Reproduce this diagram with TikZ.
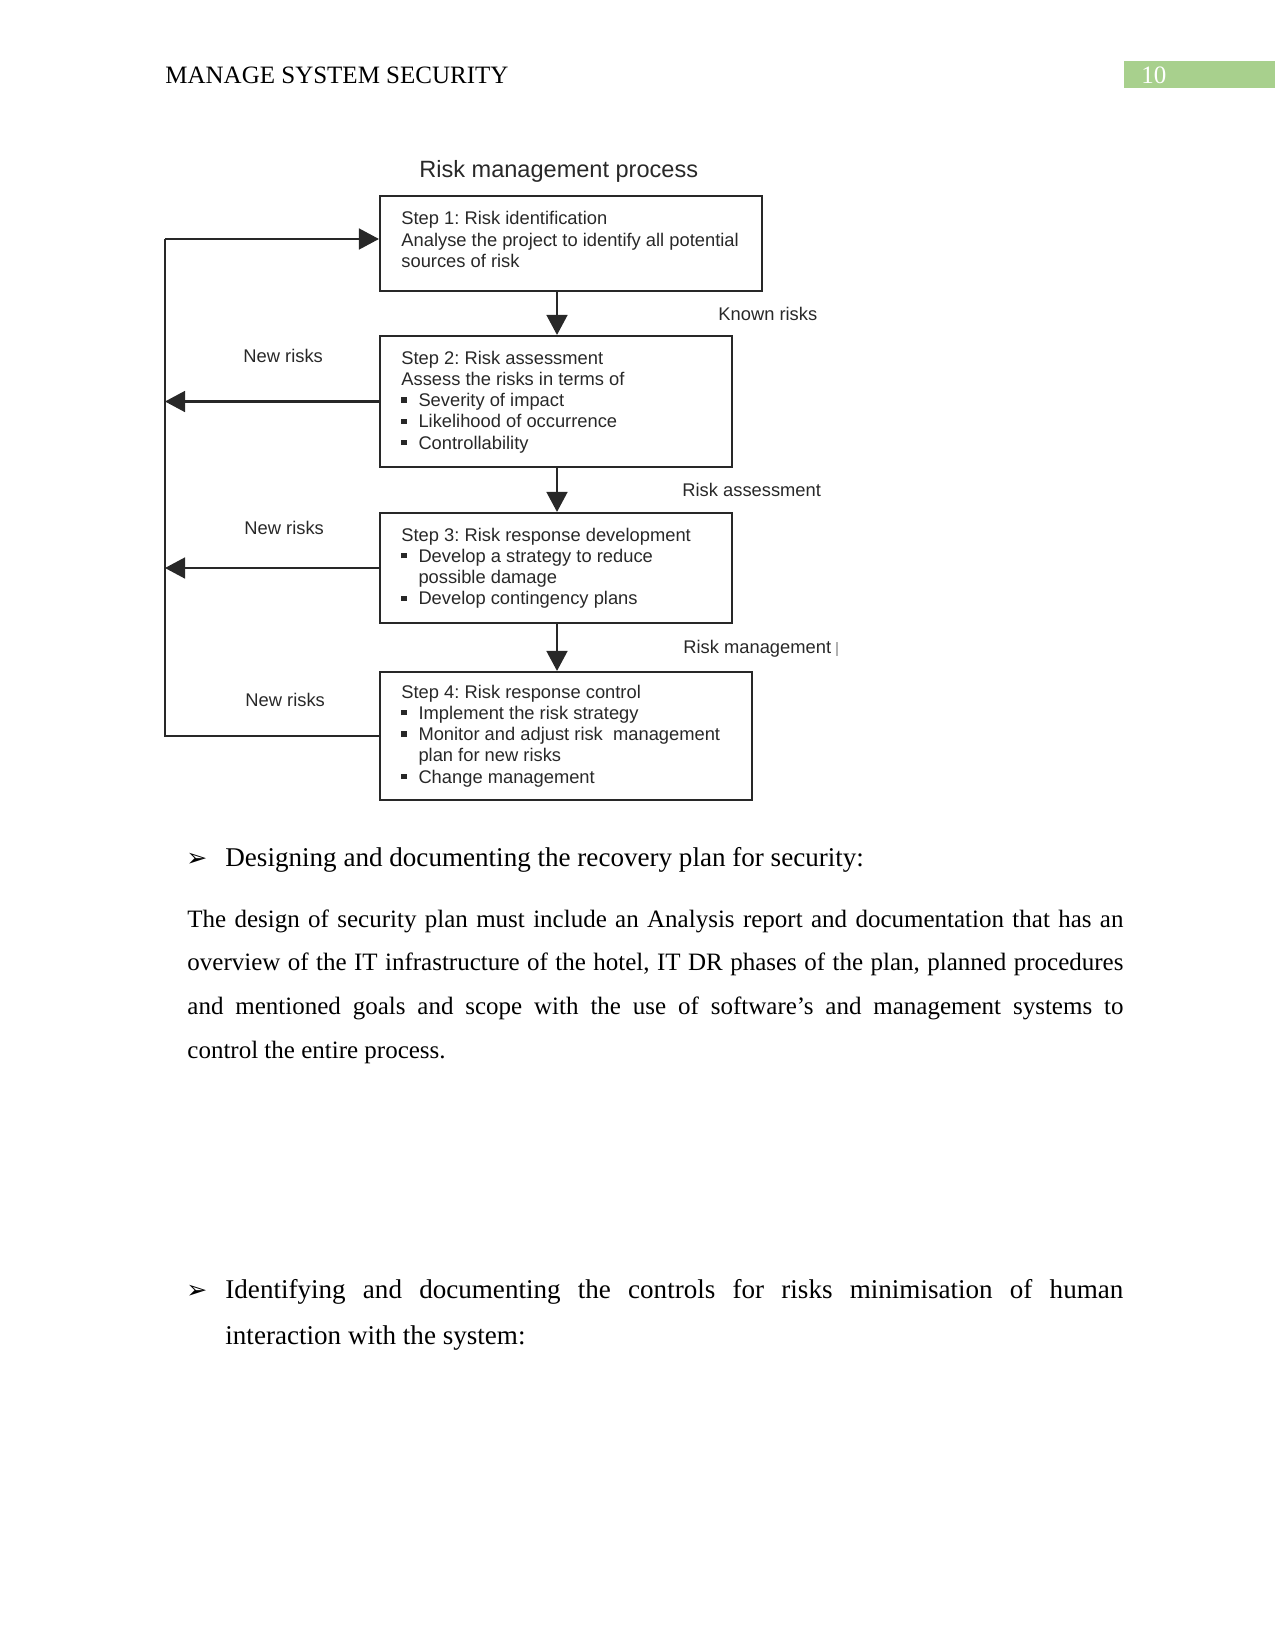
\documentclass[tikz,border=0pt]{standalone}
\usepackage{fontspec}
\setmainfont{Liberation Serif}
\newfontfamily\diagfont{Liberation Sans}
\newfontfamily\symfont{DejaVu Sans}
\usetikzlibrary{arrows.meta,fit}
\definecolor{hdrgreen}{RGB}{168,208,141}
\definecolor{ink}{RGB}{40,40,40}
\frenchspacing
\newcommand{\sqb}{\makebox[8.2pt][l]{\rule[1.9pt]{2.5pt}{2.5pt}}}
\newcommand{\ind}{\hspace*{8.2pt}}
\newcommand{\boxlines}[1]{\parbox[t]{200pt}{\frenchspacing\diagfont\fontsize{8.8pt}{10.2pt}\selectfont #1}}
\tikzset{
  stepbox/.style={draw=ink, line width=1pt, inner sep=0pt},
  boxtext/.style={anchor=base west, inner sep=0pt, text=ink},
  lbl/.style={anchor=base west, inner sep=0pt, text=ink, font=\diagfont\fontsize{8.8pt}{10pt}\selectfont},
  conn/.style={draw=ink, line width=1pt},
  arr/.style={conn, -{Triangle[length=9.6pt,width=10pt]}},
  body/.style={anchor=base west, inner sep=0pt, font=\fontsize{12pt}{14pt}\selectfont},
  head/.style={anchor=base west, inner sep=0pt, font=\fontsize{13pt}{15pt}\selectfont},
  bul/.style={anchor=base west, inner sep=0pt, font=\symfont\fontsize{12pt}{14pt}\selectfont},
}
\begin{document}
\begin{tikzpicture}[x=0.48pt, y=-0.48pt]
\useasboundingbox (0,0) rectangle (1275,1651);
% header
\node[body] (hdr) at (165,84) {MANAGE SYSTEM SECURITY};
\fill[hdrgreen] (1124,61) rectangle (1275,88);
\node[body, text=white] (pg) at (1141,84) {10};
% diagram title
\node[anchor=base west, inner sep=0pt, text=ink, font=\diagfont\fontsize{11.3pt}{13pt}\selectfont] (title) at (419,178) {Risk management process};
% boxes
\node[stepbox, fit={(380,196) (762,291)}] (b1) {};
\node[stepbox, fit={(380,336) (732,467)}] (b2) {};
\node[stepbox, fit={(380,513) (732,623)}] (b3) {};
\node[stepbox, fit={(380,672) (752,800)}] (b4) {};
% box texts
\node[boxtext] (t1) at (401,225) {\boxlines{Step 1: Risk identification\\Analyse the project to identify all potential\\sources of risk}};
\node[boxtext] (t2) at (401,364) {\boxlines{Step 2: Risk assessment\\Assess the risks in terms of\\\sqb Severity of impact\\\sqb Likelihood of occurrence\\\sqb Controllability}};
\node[boxtext] (t3) at (401,541) {\boxlines{Step 3: Risk response development\\\sqb Develop a strategy to reduce\\\ind possible damage\\\sqb Develop contingency plans}};
\node[boxtext] (t4) at (401,698) {\boxlines{Step 4: Risk response control\\\sqb Implement the risk strategy\\\sqb Monitor and adjust risk\ \ management\\\ind plan for new risks\\\sqb Change management}};
% connector labels
\node[lbl] (l1) at (718,320) {Known risks};
\node[lbl] (l2) at (682,496) {Risk assessment};
\node[lbl] (l3) at (683,653) {Risk management};
\draw[gray!60, line width=0.6pt] (837,642) -- (837,656);
\node[lbl] (n1) at (243,362) {New risks};
\node[lbl] (n2) at (244,534) {New risks};
\node[lbl] (n3) at (245,706) {New risks};
% connectors
\coordinate (vx) at (557,0);
\coordinate (lpx) at (165,0);
\coordinate (lpTop) at (165,239);
\draw[arr] (b1.south -| vx) -- (b2.north -| vx);
\draw[arr] (b2.south -| vx) -- (b3.north -| vx);
\draw[arr] (b3.south -| vx) -- (b4.north -| vx);
\draw[arr] (b2.west) -- (b2.west -| lpx);
\draw[arr] (b3.west) -- (b3.west -| lpx);
\draw[conn] (b4.west) -- (b4.west -| lpx) -- (lpTop);
\draw[arr] (lpTop) -- (lpTop -| b1.west);
% body text
\node[bul] (bul1) at (186,866) {➢};
\node[head] (h1) at (225,866) {Designing and documenting the recovery plan for security:};
\node[body] (p1) at (187,927) {\makebox[449.3pt][s]{The design of security plan must include an Analysis report and documentation that has an}};
\node[body] (p2) at (187,970) {\makebox[449.3pt][s]{overview of the IT infrastructure of the hotel, IT DR phases of the plan, planned procedures}};
\node[body] (p3) at (187,1014) {\makebox[449.3pt][s]{and mentioned goals and scope with the use of software’s and management systems to}};
\node[body] (p4) at (187,1058) {control the entire process.};
\node[bul] (bul2) at (186,1298) {➢};
\node[head] (h2a) at (225,1298) {\makebox[431pt][s]{Identifying and documenting the controls for risks minimisation of human}};
\node[head] (h2b) at (225,1344) {interaction with the system:};
\end{tikzpicture}
\end{document}
